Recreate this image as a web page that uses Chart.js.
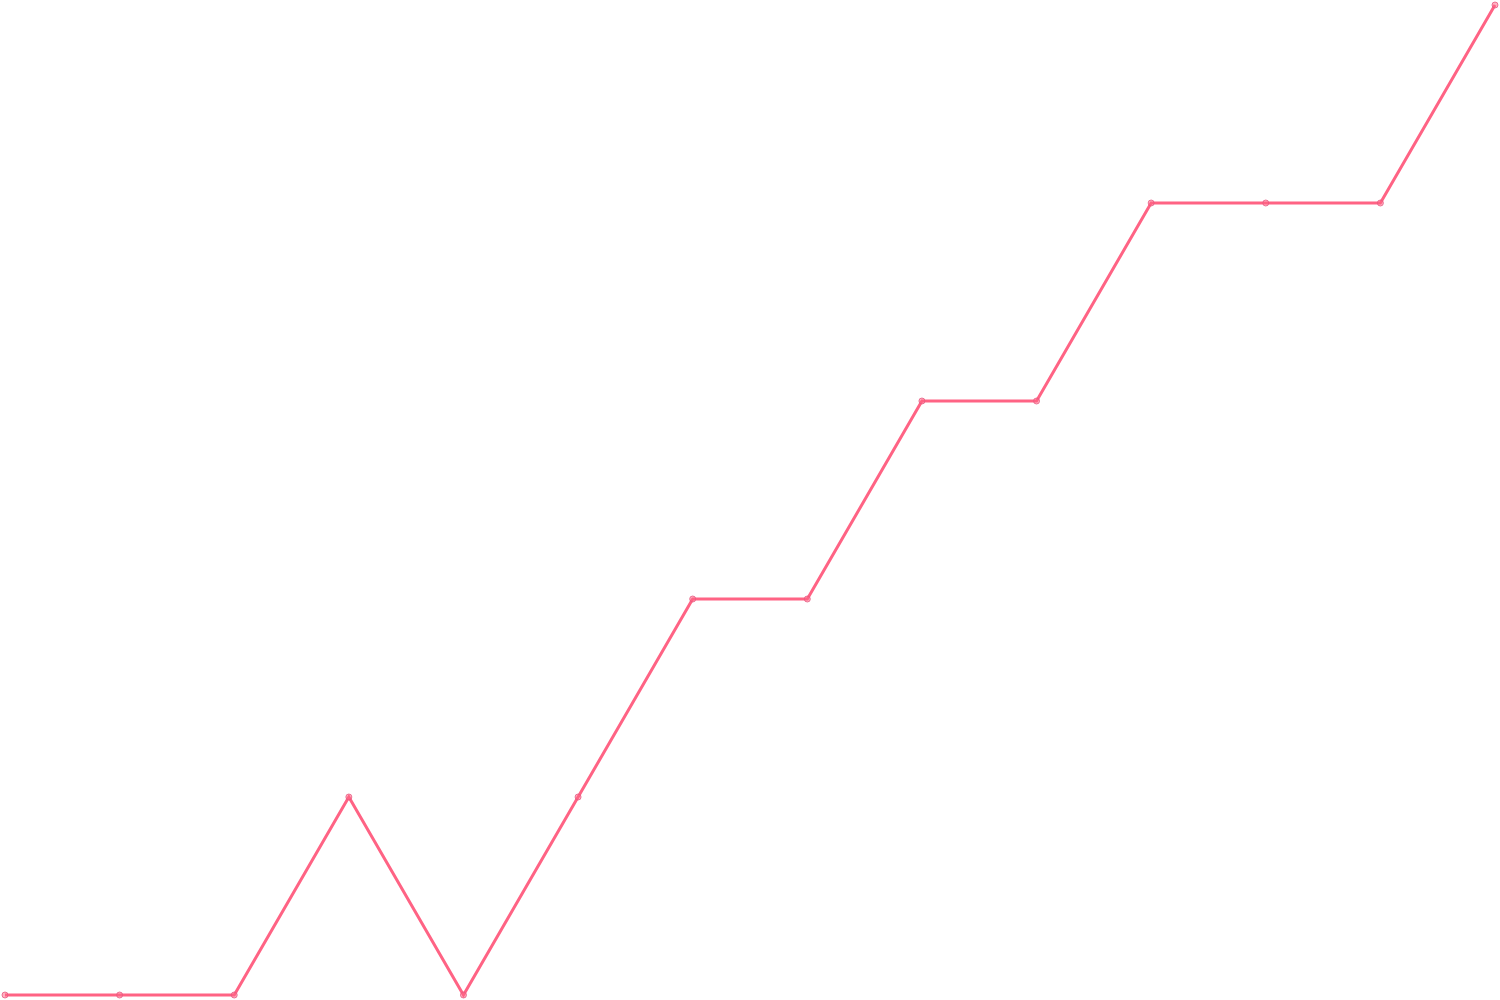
<!DOCTYPE html>
<html>
<head>
<meta charset="utf-8">
<script src="https://cdn.jsdelivr.net/npm/chart.js@4"></script>
<style>
  html, body { margin: 0; padding: 0; background: #fff; }
  #wrap { width: 1500px; height: 1000px; }
</style>
</head>
<body>
<div id="wrap"><canvas id="chart"></canvas></div>
<script>
const labels = ['1', '2', '3', '4', '5', '6', '7', '8', '9', '10', '11', '12', '13', '14'];
const values = [0, 0, 0, 1, 0, 1, 2, 2, 3, 3, 4, 4, 4, 5];

document.addEventListener('DOMContentLoaded', function() {
    const ctx = document.getElementById('chart').getContext('2d');

    new Chart(ctx, {
        type: 'line',
        data: {
            labels: labels,
            datasets: [{
                data: values,
                borderColor: 'rgb(255, 99, 132)',
                backgroundColor: 'rgba(255, 99, 132, 0.5)',
                pointBackgroundColor: 'rgba(255, 99, 132, 0.5)',
                pointBorderColor: 'rgba(230, 90, 130, 0.8)',
                borderWidth: 3,
                pointRadius: 3,
                pointBorderWidth: 1,
                tension: 0,
                clip: false
            }]
        },
        options: {
            responsive: true,
            maintainAspectRatio: false,
            animation: false,
            layout: { autoPadding: false, padding: 5 },
            plugins: {
                legend: { display: false },
                tooltip: { enabled: false }
            },
            scales: {
                x: { display: false },
                y: { display: false, min: 0, max: 5 }
            }
        }
    });
});
</script>
</body>
</html>
